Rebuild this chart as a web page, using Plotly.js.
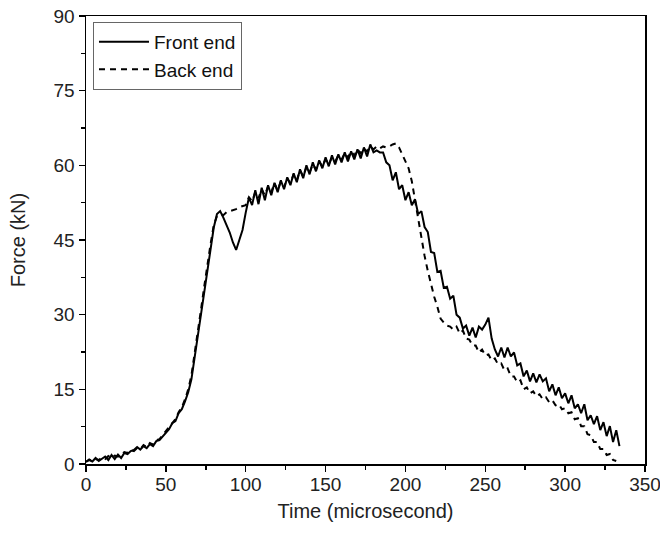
<!DOCTYPE html>
<html>
<head>
<meta charset="utf-8">
<script src="https://cdn.plot.ly/plotly-3.0.1.min.js"></script>
<style>html,body{margin:0;padding:0;background:#fff;}#chart{width:660px;height:536px;}</style>
</head>
<body>
<div id="chart"></div>
<script>
// Sampling: every 2 microseconds starting at 0
const timeStart = 0;
const timeStep = 2;

const seriesNames = ["Front end", "Back end"];

// Front end force (kN), t = 0, 2, 4, ... 334
const frontEnd = [
  0.5, 0.8, 0.5, 1.2, 0.6, 1.0, 1.5, 0.8, 1.8, 1.0,
  1.9, 1.2, 2.2, 2.0, 2.6, 2.8, 3.4, 2.9, 3.6, 3.2,
  4.0, 3.6, 4.6, 4.8, 5.6, 6.4, 7.0, 8.2, 8.6, 10.2,
  11.0, 12.6, 14.4, 17.0, 21.5, 26.0, 30.5, 35.0, 39.5, 43.5,
  47.5, 50.2, 50.8, 49.5, 48.0, 46.5, 44.5, 43.0, 45.0, 47.0,
  50.5, 53.5, 52.0, 55.0, 52.2, 55.5, 53.0, 56.0, 54.0, 56.5,
  54.6, 57.0, 55.2, 57.6, 56.0, 58.4, 56.6, 59.2, 57.4, 60.0,
  58.2, 60.6, 58.8, 61.0, 59.4, 61.6, 59.8, 62.0, 60.2, 62.2,
  60.6, 62.6, 60.8, 62.8, 61.2, 63.2, 61.4, 63.6, 61.8, 64.2,
  62.6, 63.0, 62.6, 62.6, 60.6, 60.0, 57.0, 58.6, 55.2, 56.0,
  53.0, 54.6, 52.0, 53.2, 50.2, 50.8, 47.6, 46.6, 42.6, 42.4,
  38.6, 38.8, 35.4, 35.6, 33.2, 33.8, 30.0, 29.4, 27.2, 27.8,
  25.8, 27.4, 25.4, 27.6, 27.0, 28.0, 29.4, 25.2, 23.0, 21.6,
  23.4, 21.4, 23.4, 21.6, 22.4, 19.8, 20.2, 17.6, 18.8, 16.6,
  18.2, 16.4, 18.0, 16.6, 17.2, 14.6, 16.0, 13.8, 15.4, 13.2,
  14.2, 12.2, 13.8, 11.2, 12.0, 10.2, 12.0, 8.8, 9.8, 8.0,
  9.6, 6.8, 8.4, 5.6, 7.6, 4.4, 6.8, 3.6
];

// Back end force (kN), t = 0, 2, 4, ... 332
const backEnd = [
  0.4, 0.9, 0.6, 1.0, 0.8, 1.3, 1.0, 1.6, 1.2, 1.7,
  1.5, 2.0, 2.4, 2.2, 2.8, 2.6, 3.2, 3.0, 3.8, 3.4,
  4.2, 3.9, 4.8, 5.0, 5.8, 6.6, 7.4, 8.4, 9.0, 10.4,
  11.4, 13.0, 15.0, 17.8, 22.0, 26.6, 31.0, 35.6, 40.2, 44.2,
  48.0, 49.8, 50.2, 50.0, 50.6, 50.8, 51.0, 51.2, 51.6, 51.8,
  52.0, 53.6, 52.8, 54.6, 53.4, 55.2, 54.0, 55.8, 54.6, 56.4,
  55.0, 56.8, 55.6, 57.4, 56.4, 58.2, 57.0, 59.0, 57.8, 59.6,
  58.6, 60.2, 59.2, 60.8, 59.8, 61.2, 60.2, 61.6, 60.8, 62.0,
  61.2, 62.4, 61.6, 62.8, 62.0, 63.2, 62.4, 63.4, 62.8, 63.8,
  63.2, 63.8, 63.4, 63.8, 63.6, 63.8, 64.2, 64.4, 63.6, 62.2,
  60.8, 59.4, 56.8, 53.0, 49.8, 46.0, 41.8, 38.8, 36.0, 33.6,
  31.6, 29.2, 28.4, 27.8, 27.6, 27.0, 27.6, 26.2, 26.8, 25.2,
  25.0, 23.8, 23.8, 22.4, 23.0, 21.8, 22.0, 20.8, 21.2, 20.0,
  20.2, 18.8, 19.2, 17.6, 17.6, 16.4, 16.8, 15.0, 15.4, 14.2,
  14.6, 13.6, 14.0, 13.0, 13.4, 12.4, 12.8, 11.8, 12.0, 11.0,
  11.2, 10.2, 10.4, 9.0, 9.2, 7.6, 7.6, 6.0, 5.8, 4.4,
  4.4, 3.0, 3.0, 1.8, 2.0, 0.8, 0.6
];

const xTitle = "Time (microsecond)";
const yTitle = "Force (kN)";

const FONT = "Liberation Sans, Arial, Helvetica, sans-serif";

const traces = [
  {
    type: "scatter", mode: "lines", name: seriesNames[0],
    x0: timeStart, dx: timeStep, y: frontEnd,
    line: {color: "#000", width: 2}
  },
  {
    type: "scatter", mode: "lines", name: seriesNames[1],
    x0: timeStart, dx: timeStep, y: backEnd,
    line: {color: "#000", width: 2, dash: "6px,5px"}
  }
];

const axisCommon = {
  showline: true, linecolor: "#000", linewidth: 1.5, mirror: true,
  showgrid: false, zeroline: false,
  ticks: "outside", ticklen: 6, tickwidth: 1.5, tickcolor: "#000",
  ticklabeloverflow: "allow",
  tickfont: {family: FONT, size: 19, color: "#222"},
  minor: {ticks: "outside", ticklen: 4, tickwidth: 1.5, tickcolor: "#000", showgrid: false}
};

const layout = {
  width: 660, height: 536,
  margin: {l: 86, r: 15, t: 16, b: 72},
  paper_bgcolor: "#fff", plot_bgcolor: "#fff",
  showlegend: true,
  legend: {
    x: 0.0125, y: 0.987, xanchor: "left", yanchor: "top",
    bordercolor: "#666", borderwidth: 1, bgcolor: "#fff",
    font: {family: FONT, size: 19, color: "#111"},
    itemwidth: 50,
    tracegroupgap: 0
  },
  xaxis: Object.assign({}, axisCommon, {
    range: [0, 350], dtick: 50, tick0: 0,
    ticklabelstandoff: -3,
    minor: Object.assign({}, axisCommon.minor, {dtick: 25}),
    title: {text: xTitle, font: {family: FONT, size: 20, color: "#222"}, standoff: 9}
  }),
  yaxis: Object.assign({}, axisCommon, {
    range: [0, 90], dtick: 15, tick0: 0,
    ticklabelstandoff: 0,
    minor: Object.assign({}, axisCommon.minor, {dtick: 7.5}),
    title: {text: yTitle, font: {family: FONT, size: 20, color: "#222"}, standoff: 22}
  })
};

Plotly.newPlot("chart", traces, layout, {displayModeBar: false, staticPlot: true});
</script>
</body>
</html>
